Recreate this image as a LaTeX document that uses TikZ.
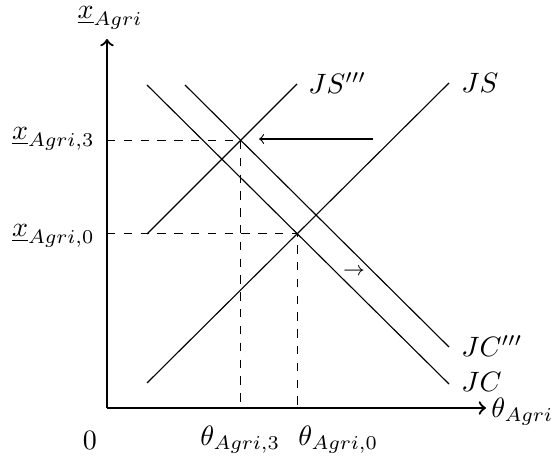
\documentclass[tikz,border=0pt]{standalone}
\usetikzlibrary{intersections}
\begin{document}
\begin{tikzpicture}[x=0.357pt,y=0.357pt,
  axis/.style={thick,->},
  curve/.style={thin},
  guide/.style={thin,dashed},
  lbl/.style={inner sep=1pt}]
\useasboundingbox (0,0) rectangle (560,470);
% axes
\coordinate (O) at (107,62);
\coordinate (ytop) at (107,431);
\coordinate (xend) at (486,62);
\draw[axis] (O) -- (ytop);
\draw[axis] (O) -- (xend);
\node[lbl] (ylab) at (110,452) {$\underline{x}_{Agri}$};
\node[lbl,anchor=west] (xlab) at (488,58) {$\theta_{Agri}$};
\node[lbl] (zero) at (90,30) {$0$};
% curves
\coordinate (js1) at (147,87);
\coordinate (js2) at (449,387);
\coordinate (jss1) at (147,236);
\coordinate (jss2) at (297,386);
\coordinate (jc1) at (147,385);
\coordinate (jc2) at (449,86);
\coordinate (jcc1) at (185,385);
\coordinate (jcc2) at (449,123);
\draw[curve,name path=JS] (js1) -- (js2);
\draw[curve,name path=JSS] (jss1) -- (jss2);
\draw[curve,name path=JC] (jc1) -- (jc2);
\draw[curve,name path=JCC] (jcc1) -- (jcc2);
\node[lbl,anchor=west] (JSl) at (458,387) {$JS$};
\node[lbl,anchor=west] (JSSl) at (305,387) {$JS'''$};
\node[lbl,anchor=west] (JCl) at (458,88) {$JC$};
\node[lbl,anchor=west] (JCCl) at (458,124) {$JC'''$};
% intersections
\path[name intersections={of=JS and JC,by=E0}];
\path[name intersections={of=JSS and JCC,by=E3}];
\coordinate (E0y) at (O |- E0);
\coordinate (E0x) at (O -| E0);
\coordinate (E3y) at (O |- E3);
\coordinate (E3x) at (O -| E3);
\draw[guide] (E0y) -- (E0) -- (E0x);
\draw[guide] (E3y) -- (E3) -- (E3x);
\node[lbl,anchor=east] (x3) at (98,331) {$\underline{x}_{Agri,3}$};
\node[lbl,anchor=east] (x0) at (98,234) {$\underline{x}_{Agri,0}$};
\node[lbl,anchor=west] (t3) at (197,30) {$\theta_{Agri,3}$};
\node[lbl,anchor=west] (t0) at (295,30) {$\theta_{Agri,0}$};
% shift arrows
\coordinate (a1) at (373,331);
\coordinate (a2) at (259,331);
\draw[thin,->] (a1) -- (a2);
\node[lbl] (rarr) at (354,198) {$\scriptstyle\rightarrow$};
\end{tikzpicture}
\end{document}
